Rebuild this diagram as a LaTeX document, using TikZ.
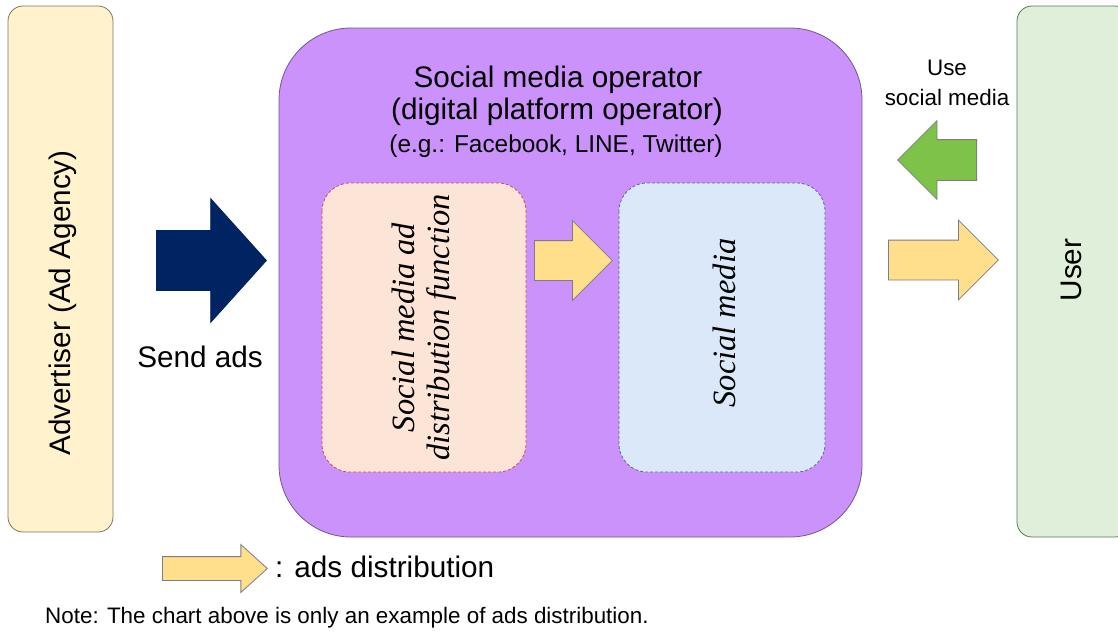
\documentclass[tikz,border=0pt]{standalone}
\usepackage{fontspec}
\setmainfont{Liberation Sans}
\newfontfamily\boxserif{Liberation Serif}
\usetikzlibrary{positioning,shapes.arrows}

\definecolor{advfill}{RGB}{255,242,204}
\definecolor{advedge}{RGB}{125,118,90}
\definecolor{userfill}{RGB}{224,239,217}
\definecolor{useredge}{RGB}{95,115,88}
\definecolor{opfill}{RGB}{202,146,250}
\definecolor{opedge}{RGB}{115,85,145}
\definecolor{funcfill}{RGB}{252,228,214}
\definecolor{funcedge}{RGB}{205,75,105}
\definecolor{smfill}{RGB}{218,232,250}
\definecolor{smedge}{RGB}{95,105,150}
\definecolor{sendblue}{RGB}{0,35,98}
\definecolor{adyellow}{RGB}{255,222,140}
\definecolor{usegreen}{RGB}{126,194,72}
\definecolor{arrowedge}{RGB}{125,125,135}

\begin{document}
\begin{tikzpicture}[x=1pt,y=-1pt,
  sidebox/.style={draw=#1,line width=0.8pt,rounded corners=15pt,inner sep=0pt},
  innerbox/.style={draw=#1,line width=0.8pt,dash pattern=on 3pt off 2pt,rounded corners=28pt,
    minimum width=289pt,inner sep=0pt},
  blockarrow/.style={single arrow,anchor=tail,inner xsep=0pt,line width=0.8pt,
    single arrow tip angle=90},
  adsarrow/.style={blockarrow,draw=arrowedge,fill=adyellow},
  bigtext/.style={font=\fontsize{29.7}{32}\selectfont},
  smalltext/.style={font=\fontsize{22.4}{30}\selectfont},
  slanted/.style={font=\boxserif\itshape\fontsize{32.5}{35}\selectfont,rotate=90,align=center}]

  \clip (0,0) rectangle (1118,632);

  \node[sidebox=advedge,fill=advfill,minimum width=105pt,minimum height=526pt]
    (adv) at (60.5,269) {};
  \node[bigtext,rotate=90] (advtext) at (63,303) {Advertiser (Ad Agency)};
  \node[sidebox=useredge,fill=userfill,minimum width=113pt,minimum height=531pt]
    (user) at (1073.5,271.5) {};
  \node[bigtext,rotate=90] (usertext) at (1071,270) {User};

  \node[draw=opedge,fill=opfill,line width=0.8pt,rounded corners=72pt,inner sep=0pt,
    minimum width=583pt,minimum height=509pt] (op) at (570.5,282.5) {};
  \node[bigtext,anchor=base] (optitle) at (558,87) {Social media operator};
  \node[bigtext,anchor=base] (opsub) at (557,119) {(digital platform operator)};
  \node[font=\fontsize{24.4}{28}\selectfont,anchor=base] (opeg) at (556,152) {(e.g.: Facebook, LINE, Twitter)};

  \node[innerbox=funcedge,fill=funcfill,rotate=90,minimum height=204pt] (func) at (424,327.5) {};
  \node[innerbox=smedge,fill=smfill,rotate=90,minimum height=206pt] (sm) at (722,327.5) {};
  \node[slanted] (functext) at (func) {Social media ad\\distribution function};
  \node[slanted] (smtext) at (724,323) {Social media};

  % block arrows
  \node[blockarrow,draw=sendblue,fill=sendblue,single arrow tip angle=96,inner ysep=29.5pt,
    minimum height=110pt,minimum width=123pt,single arrow head extend=32pt] (send) at (156,260.5) {};
  \node[adsarrow,inner ysep=19.5pt,minimum height=78pt,minimum width=79pt,
    single arrow head extend=20pt] (inner) at (534,260.5) {};
  \node[adsarrow,inner ysep=19.5pt,minimum height=110pt,minimum width=79pt,
    single arrow head extend=20pt] (touser) at (888,260) {};
  \node[blockarrow,draw=arrowedge,fill=usegreen,shape border rotate=180,inner ysep=20pt,
    minimum height=79pt,minimum width=78pt,single arrow head extend=19pt] (use) at (977,160) {};
  \node[adsarrow,single arrow tip angle=84,inner ysep=11.5pt,minimum height=105pt,minimum width=47pt,
    single arrow head extend=12pt] (legend) at (162,568.5) {};

  \node[bigtext] (sendlabel) at (200,357) {Send ads};
  \node[smalltext,align=center] (uselabel) at (947,83) {Use\\social media};
  \node[bigtext,anchor=west,inner sep=0pt] (legendlabel) at (275,567) {: ads distribution};
  \node[smalltext,anchor=west,inner sep=0pt] (note) at (45,618)
    {Note: The chart above is only an example of ads distribution.};
\end{tikzpicture}
\end{document}
